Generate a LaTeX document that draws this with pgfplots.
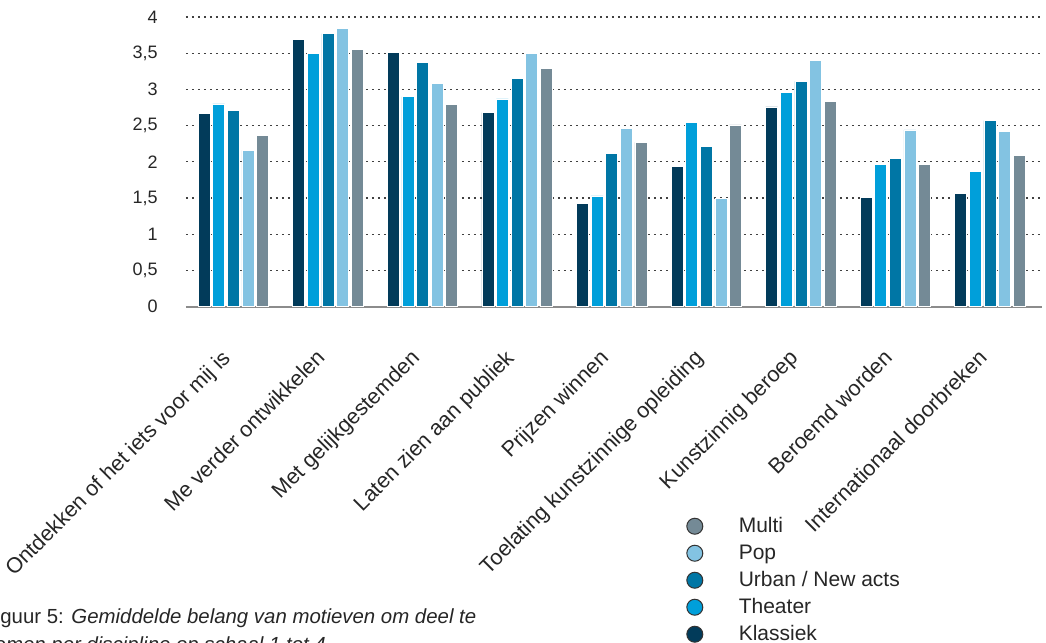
\documentclass[border=0pt]{standalone}
\usepackage{fontspec}
\setmainfont{Liberation Sans}
\usepackage{pgfplots}
\pgfplotsset{compat=1.18}

\definecolor{klassiek}{HTML}{023B5A}
\definecolor{theater}{HTML}{009FDA}
\definecolor{urban}{HTML}{0076A5}
\definecolor{pop}{HTML}{83C3E2}
\definecolor{multi}{HTML}{748A96}

% gemiddelde per motief (0..8) en discipline
\pgfplotstableread{
cat klassiek theater urban pop multi
0 2.67 2.80 2.71 2.16 2.37
1 3.69 3.50 3.77 3.84 3.55
2 3.51 2.90 3.37 3.08 2.79
3 2.68 2.87 3.15 3.50 3.29
4 1.43 1.53 2.12 2.46 2.27
5 1.94 2.55 2.21 1.50 2.51
6 2.76 2.96 3.11 3.40 2.83
7 1.51 1.97 2.05 2.44 1.96
8 1.56 1.87 2.57 2.42 2.09
}\motieven

\begin{document}
\begin{tikzpicture}
% page = 1046x643 px at 0.5pt per px
\path[use as bounding box] (0pt,0pt) rectangle (523pt,-321.5pt);

\begin{axis}[
    at={(93pt,-153.35pt)}, anchor=south west,
    scale only axis,
    width=428pt, height=144.85pt,
    xmin=-0.5, xmax=8.55,
    ymin=0, ymax=4,
    ybar=1.3pt, bar width=6pt,
    axis line style={draw=none},
    major tick length=0pt,
    ytick={0.5,1,...,4},
    extra y ticks={0},
    extra y tick style={grid style={solid, black!45, line width=1pt}},
    ymajorgrids,
    grid style={black!75, line width=0.6pt, dash pattern=on 0.8pt off 2.2pt},
    yticklabel style={
        /pgf/number format/.cd, use comma, fixed, assume math mode=true,
        /tikz/.cd, anchor=east, inner sep=0pt, xshift=-14pt,
        font=\fontsize{9}{10}\selectfont, text=black!85},
    xtick=data,
    xticklabels={Ontdekken of het iets voor mij is, Me verder ontwikkelen,
        Met gelijkgestemden, Laten zien aan publiek, Prijzen winnen,
        Toelating kunstzinnige opleiding, Kunstzinnig beroep,
        Beroemd worden, Internationaal doorbreken},
    xticklabel style={xshift=-6.5pt, yshift=-20.5pt, rotate=45,
        anchor=north east, inner sep=0pt,
        font=\fontsize{10.8}{12}\selectfont, text=black!85},
    legend image code/.code={
        \path[draw=none, fill=none] (0pt,0pt) -- (25pt,0pt);
        \draw[#1, draw=black!80, line width=0.5pt] (4pt,0pt) circle (4pt);},
    reverse legend,
    legend cell align=left,
    legend style={
        at={(0.584,-0.715)}, anchor=north west,
        draw=none, fill=none, inner sep=0pt,
        row sep=1.5pt,
        font=\fontsize{10.5}{12}\selectfont,
        nodes={inner sep=1pt, text height=8pt, text depth=2pt, text=black!85}},
]
\addplot[fill=klassiek, draw=white, line width=0.3pt] table[x=cat, y=klassiek] {\motieven};
\addplot[fill=theater, draw=white, line width=0.3pt] table[x=cat, y=theater] {\motieven};
\addplot[fill=urban, draw=white, line width=0.3pt] table[x=cat, y=urban] {\motieven};
\addplot[fill=pop, draw=white, line width=0.3pt] table[x=cat, y=pop] {\motieven};
\addplot[fill=multi, draw=white, line width=0.3pt] table[x=cat, y=multi] {\motieven};
\legend{Klassiek, Theater, Urban / New acts, Pop, Multi}
\end{axis}

% bijschrift, links en onder afgesneden zoals in het origineel
\node[anchor=base west, align=left, inner sep=0pt, text=black!85,
      font=\fontsize{10.2}{14}\selectfont] at (-8.5pt,-325.5pt)
    {Figuur 5: \textit{Gemiddelde belang van motieven om deel te}\\
     \textit{nemen per discipline op schaal 1 tot 4}};
\end{tikzpicture}
\end{document}
